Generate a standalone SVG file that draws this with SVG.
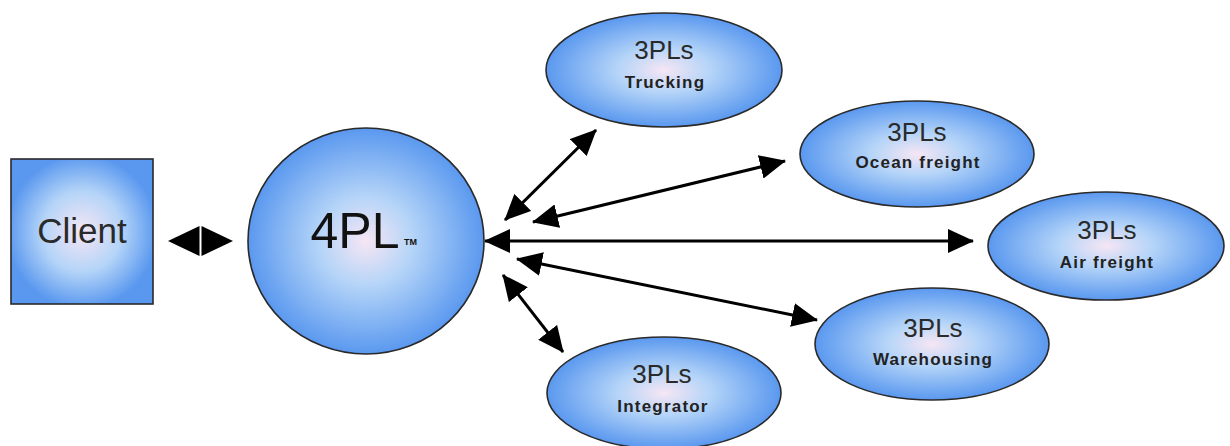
<svg xmlns="http://www.w3.org/2000/svg" width="1230" height="446" viewBox="0 0 1230 446">
<defs>
<style>
.node{stroke:#2a2a2a;stroke-width:1.6}
.main{font-family:"Liberation Sans",Arial,sans-serif;fill:#2a2a2a;text-anchor:middle}
.sub{font-family:"Liberation Sans",Arial,sans-serif;fill:#222;text-anchor:middle;font-size:17px;font-weight:bold;letter-spacing:1.2px}
.conn{stroke:#000;stroke-width:3;fill:none;marker-start:url(#ah);marker-end:url(#ah)}
</style>
<radialGradient id="g" cx="0.5" cy="0.5" r="0.5">
<stop offset="0" stop-color="#f6e6f4"/>
<stop offset="0.4" stop-color="#b4d4f8"/>
<stop offset="1" stop-color="#5a98ef"/>
</radialGradient>
<radialGradient id="gr" cx="0.5" cy="0.5" r="0.62">
<stop offset="0" stop-color="#f6e6f4"/>
<stop offset="0.45" stop-color="#b4d4f8"/>
<stop offset="0.85" stop-color="#5a98ef"/>
</radialGradient>
<marker id="ah" markerUnits="userSpaceOnUse" markerWidth="26" markerHeight="24" refX="25" refY="12" orient="auto-start-reverse" viewBox="0 0 26 24">
<path d="M0,0 L26,12 L0,24 z" fill="#000"/>
</marker>
</defs>
<rect width="1230" height="446" fill="#fff"/>
<g id="connectors">
<line class="conn" x1="505" y1="220" x2="596" y2="130"/>
<line class="conn" x1="533" y1="222" x2="785" y2="161"/>
<line class="conn" x1="485" y1="241" x2="973" y2="241"/>
<line class="conn" x1="517" y1="259" x2="817" y2="320"/>
<line class="conn" x1="503" y1="275" x2="563" y2="352"/>
<polygon points="168,241 199.5,226 199.5,256" fill="#000"/>
<polygon points="233,241 201.5,226 201.5,256" fill="#000"/>
</g>
<g id="client">
<rect class="node" x="11" y="159" width="142" height="145" fill="url(#gr)"/>
<text class="main" x="82" y="243" font-size="35">Client</text>
</g>
<g id="fourpl">
<ellipse class="node" cx="366" cy="241" rx="118" ry="113" fill="url(#g)"/>
<text class="main" x="355" y="248" font-size="50" style="fill:#111">4PL</text>
<text x="404" y="245" font-family="Liberation Sans, Arial, sans-serif" font-size="9" font-weight="bold" fill="#111">TM</text>
</g>
<g id="trucking">
<ellipse class="node" cx="664" cy="70" rx="118" ry="57" fill="url(#g)"/>
<text class="main" x="664" y="59" font-size="26">3PLs</text>
<text class="sub" x="665" y="88">Trucking</text>
</g>
<g id="ocean">
<ellipse class="node" cx="917" cy="154" rx="117" ry="53" fill="url(#g)"/>
<text class="main" x="917" y="141" font-size="26">3PLs</text>
<text class="sub" x="918" y="168">Ocean freight</text>
</g>
<g id="air">
<ellipse class="node" cx="1106" cy="246" rx="118" ry="54" fill="url(#g)"/>
<text class="main" x="1107" y="239" font-size="26">3PLs</text>
<text class="sub" x="1107" y="268">Air freight</text>
</g>
<g id="warehousing">
<ellipse class="node" cx="932" cy="344" rx="117" ry="56" fill="url(#g)"/>
<text class="main" x="933" y="337" font-size="26">3PLs</text>
<text class="sub" x="933" y="365">Warehousing</text>
</g>
<g id="integrator">
<ellipse class="node" cx="664" cy="393" rx="117" ry="56" fill="url(#g)"/>
<text class="main" x="662" y="383" font-size="26">3PLs</text>
<text class="sub" x="663" y="412">Integrator</text>
</g>
</svg>
